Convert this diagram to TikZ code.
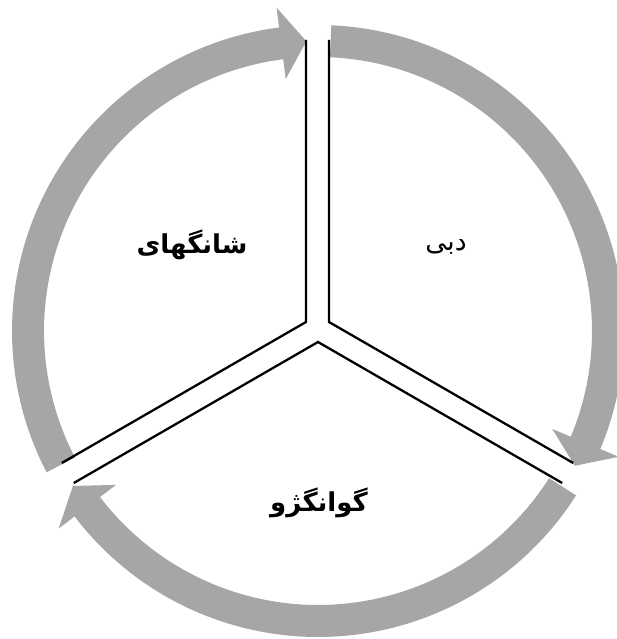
\documentclass[tikz,border=0pt]{standalone}
\usepackage{fontspec}
\newfontfamily\arabicfont[Script=Arabic]{DejaVu Sans}
\TeXXeTstate=1
\definecolor{arrowgray}{RGB}{166,166,166}
\begin{document}
\begin{tikzpicture}[x=1pt,y=1pt,
  cyclearrow/.style={fill=arrowgray, draw=none},
  sectorline/.style={draw=black, line width=2.3pt, line join=miter},
  citylabel/.style={inner sep=0pt, font=\arabicfont\fontsize{26.5}{30}\selectfont},
  boldlabel/.style={citylabel, font=\arabicfont\bfseries\fontsize{26}{30}\selectfont}]
\useasboundingbox (-318,-308) rectangle (298,331);
% cycle arrows (ring centre at origin, band radii 274..306)
\fill[cyclearrow] (207.5:306) arc[start angle=207.5, end angle=97.3, radius=306]
  -- (97.3:326) -- (92.3:290) -- (97.3:254) -- (97.3:274)
  arc[start angle=97.3, end angle=207.5, radius=274] -- cycle;
\fill[cyclearrow] (87.5:306) arc[start angle=87.5, end angle=-22.7, radius=306]
  -- (-22.7:326) -- (-27.7:290) -- (-22.7:254) -- (-22.7:274)
  arc[start angle=-22.7, end angle=87.5, radius=274] -- cycle;
\fill[cyclearrow] (-32.5:306) arc[start angle=-32.5, end angle=-142.7, radius=306]
  -- (-142.7:326) -- (-147.7:290) -- (-142.7:254) -- (-142.7:274)
  arc[start angle=-142.7, end angle=-32.5, radius=274] -- cycle;
% sector vertices and line ends
\coordinate (v1) at (-12,9);
\coordinate (v2) at (11,9);
\coordinate (v3) at (0,-11);
\coordinate (v1a) at (-12,291);
\coordinate (v1b) at (-256.2,-132);
\coordinate (v2a) at (11,291);
\coordinate (v2b) at (255.2,-132);
\coordinate (v3a) at (-244.2,-152);
\coordinate (v3b) at (244.2,-152);
\draw[sectorline] (v1a) -- (v1) -- (v1b);
\draw[sectorline] (v2a) -- (v2) -- (v2b);
\draw[sectorline] (v3a) -- (v3) -- (v3b);
% labels
\node[boldlabel] (shanghai) at (-126,86) {\beginR شانگهای\endR};
\node[citylabel] (dubai) at (128,84) {\beginR دبی\endR};
\node[boldlabel] (guangzhou) at (1,-172) {\beginR گوانگژو\endR};
\end{tikzpicture}
\end{document}
